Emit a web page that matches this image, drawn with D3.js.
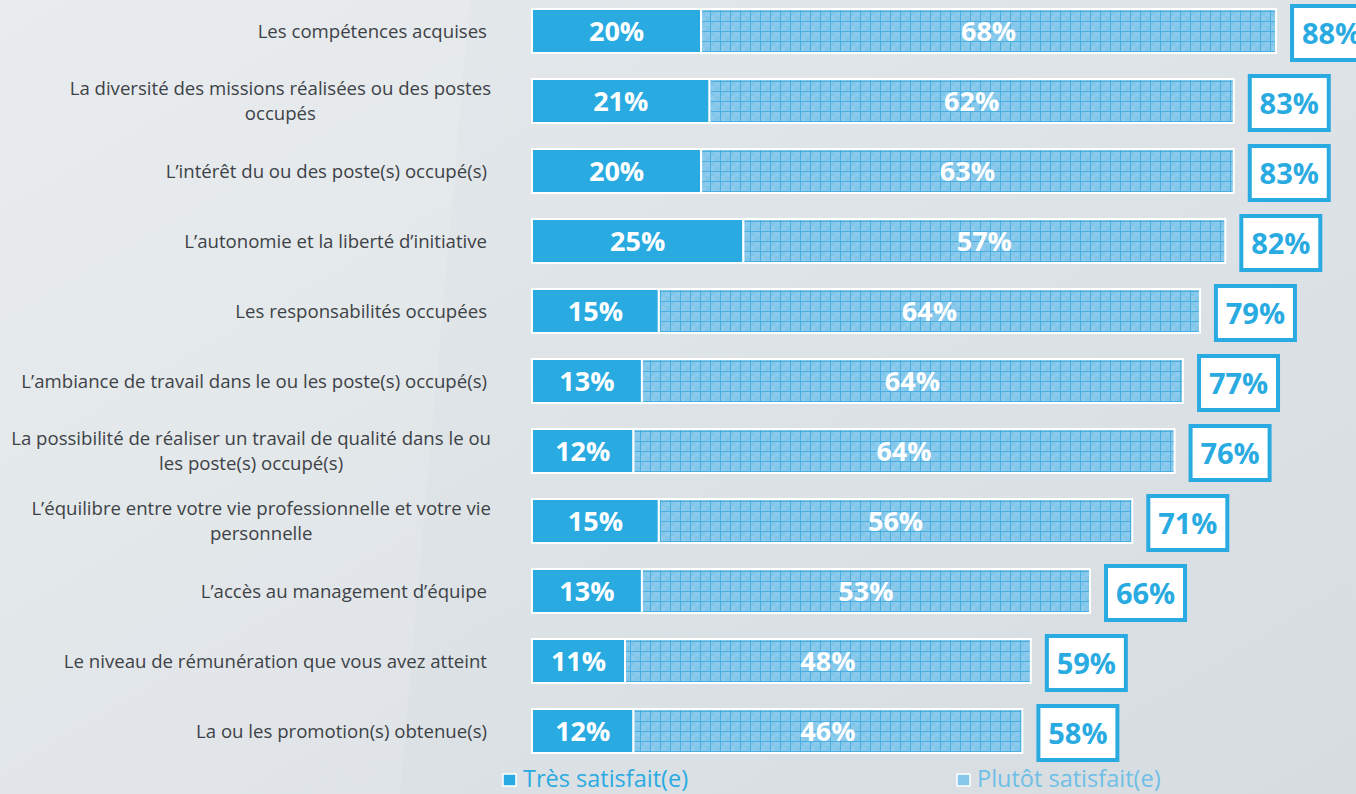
<!DOCTYPE html>
<html>
<head>
<meta charset="utf-8">
<script src="https://cdn.jsdelivr.net/npm/d3@7"></script>
<style>
  body { margin: 0; overflow: hidden; }
  svg { display: block; }
</style>
</head>
<body>
<div id="chart"></div>
<script>
var categories = [
    ["Les compétences acquises"],
    ["La diversité des missions réalisées ou des postes", "occupés"],
    ["L\u2019intérêt du ou des poste(s) occupé(s)"],
    ["L\u2019autonomie et la liberté d\u2019initiative"],
    ["Les responsabilités occupées"],
    ["L\u2019ambiance de travail dans le ou les poste(s) occupé(s)"],
    ["La possibilité de réaliser un travail de qualité dans le ou", "les poste(s) occupé(s)"],
    ["L\u2019équilibre entre votre vie professionnelle et votre vie", "personnelle"],
    ["L\u2019accès au management d\u2019équipe"],
    ["Le niveau de rémunération que vous avez atteint"],
    ["La ou les promotion(s) obtenue(s)"]
];
var tresSatisfait = [20, 21, 20, 25, 15, 13, 12, 15, 13, 11, 12];
var plutotSatisfait = [68, 62, 63, 57, 64, 64, 64, 56, 53, 48, 46];
var totals = [88, 83, 83, 82, 79, 77, 76, 71, 66, 59, 58];
var legendLabels = ["Très satisfait(e)", "Plutôt satisfait(e)"];

var width = 1356, height = 794;
var blue = "#29abe2";
var font = "Open Sans, sans-serif";

var svg = d3.select("#chart").append("svg")
    .attr("width", width)
    .attr("height", height);

var defs = svg.append("defs");

// background
var bg = defs.append("linearGradient").attr("id", "bg")
    .attr("x1", "0").attr("y1", "0").attr("x2", "1").attr("y2", "1");
bg.append("stop").attr("offset", "0%").attr("stop-color", "#e6eaed");
bg.append("stop").attr("offset", "100%").attr("stop-color", "#d6dce0");

// grid pattern for "plutôt"
var pat = defs.append("pattern").attr("id", "grid")
    .attr("patternUnits", "userSpaceOnUse")
    .attr("width", 10).attr("height", 10);
pat.append("rect").attr("width", 10).attr("height", 10).attr("fill", "#8ccbec");
pat.append("rect").attr("width", 5).attr("height", 5).attr("fill", "#82c6ea");
pat.append("rect").attr("x", 5).attr("y", 5).attr("width", 5).attr("height", 5).attr("fill", "#82c6ea");
pat.append("path").attr("d", "M0,0.5H10M0.5,0V10")
    .attr("stroke", "#4aaee1").attr("stroke-width", 1);

svg.append("rect").attr("width", width).attr("height", height).attr("fill", "url(#bg)");
svg.append("path")
    .attr("d", "M0,0 L470,0 L400,794 L0,794 Z")
    .attr("fill", "#ffffff").attr("opacity", 0.12);

var rows = categories.map(function(c, i) {
    return {label: c, tres: tresSatisfait[i], plutot: plutotSatisfait[i], total: totals[i]};
});

var x = d3.scaleLinear().domain([0, 100]).range([532, 1377.5]);
var y = d3.scalePoint().domain(d3.range(rows.length)).range([31, 731]);
var barH = 44;

var row = svg.selectAll(".row")
    .data(rows)
    .enter().append("g")
    .attr("class", "row")
    .attr("transform", function(d, i) { return "translate(0," + y(i) + ")"; });

// labels
row.each(function(d) {
    var g = d3.select(this);
    var t = g.append("text")
        .attr("font-family", font)
        .attr("font-size", 18.6)
        .attr("fill", "#3d4247");
    if (d.label.length === 1) {
        t.attr("x", 487).attr("y", 0).attr("dy", "0.35em")
            .attr("text-anchor", "end").text(d.label[0]);
    } else {
        var first = t.append("tspan").attr("text-anchor", "end")
            .attr("x", 491).attr("y", -12.5).attr("dy", "0.35em").text(d.label[0]);
        var w = first.node().getComputedTextLength();
        t.append("tspan").attr("text-anchor", "middle")
            .attr("x", 491 - w / 2).attr("y", 12.5).attr("dy", "0.35em").text(d.label[1]);
    }
});

// bars
row.append("rect")
    .attr("x", x(0))
    .attr("y", -barH / 2)
    .attr("width", function(d) { return x(d.tres) - x(0); })
    .attr("height", barH)
    .attr("fill", blue)
    .attr("stroke", "#ffffff").attr("stroke-width", 2);

row.append("rect")
    .attr("x", function(d) { return x(d.tres); })
    .attr("y", -barH / 2)
    .attr("width", function(d) { return x(d.tres + d.plutot) - x(d.tres); })
    .attr("height", barH)
    .attr("fill", "url(#grid)")
    .attr("stroke", "#ffffff").attr("stroke-width", 2);

row.append("text")
    .attr("x", function(d) { return (x(0) + x(d.tres)) / 2; })
    .attr("y", 1).attr("dy", "0.35em")
    .attr("text-anchor", "middle")
    .attr("font-family", font)
    .attr("font-weight", "bold").attr("font-size", 27)
    .attr("fill", "#ffffff")
    .text(function(d) { return d.tres + "%"; });

row.append("text")
    .attr("x", function(d) { return (x(d.tres) + x(d.tres + d.plutot)) / 2; })
    .attr("y", 1).attr("dy", "0.35em")
    .attr("text-anchor", "middle")
    .attr("font-family", font)
    .attr("font-weight", "bold").attr("font-size", 27)
    .attr("fill", "#ffffff")
    .text(function(d) { return d.plutot + "%"; });

// total boxes
var boxW = 79, boxH = 54;
row.append("rect")
    .attr("x", function(d) { return x(d.total) + 16; })
    .attr("y", -boxH / 2 + 2)
    .attr("width", boxW)
    .attr("height", boxH)
    .attr("fill", "#ffffff")
    .attr("stroke", blue).attr("stroke-width", 4);

row.append("text")
    .attr("x", function(d) { return x(d.total) + 16 + boxW / 2; })
    .attr("y", 3).attr("dy", "0.35em")
    .attr("text-anchor", "middle")
    .attr("font-family", font)
    .attr("font-weight", "bold").attr("font-size", 29)
    .attr("fill", blue)
    .text(function(d) { return d.total + "%"; });

// legend
var legend = svg.selectAll(".legend")
    .data(legendLabels)
    .enter().append("g")
    .attr("class", "legend")
    .attr("transform", function(d, i) { return "translate(" + (i === 0 ? 503 : 957) + ",774)"; });

legend.append("rect")
    .attr("width", 13).attr("height", 12)
    .attr("fill", function(d, i) { return i === 0 ? blue : "#86c8eb"; })
    .attr("stroke", "#ffffff").attr("stroke-width", 1.5);

legend.append("text")
    .attr("x", 20)
    .attr("y", 5).attr("dy", "0.35em")
    .attr("font-family", font)
    .attr("font-size", 23.5)
    .attr("fill", function(d, i) { return i === 0 ? blue : "#6fbfe6"; })
    .text(function(d) { return d; });
</script>
</body>
</html>
